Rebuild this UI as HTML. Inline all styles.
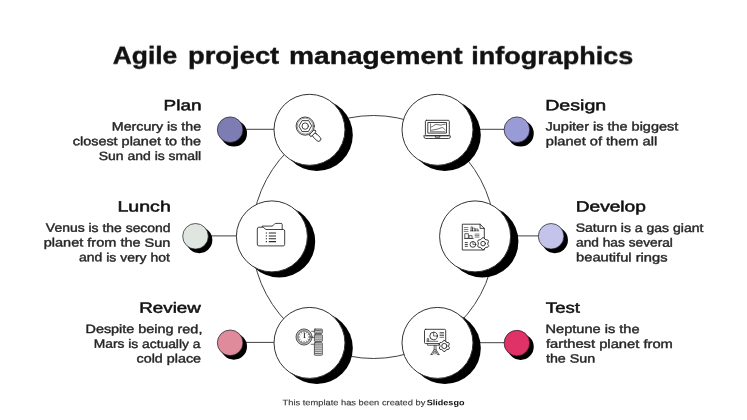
<!DOCTYPE html>
<html lang="en"><head><meta charset="utf-8"><title>Agile project management infographics</title>
<style>
html,body{margin:0;padding:0;background:#fff;}
body{width:747px;height:420px;overflow:hidden;position:relative;}
svg{position:absolute;left:0;top:0;display:block;}
text{font-family:"Liberation Sans", sans-serif;}
.txt{filter:grayscale(1);}
.title{font-size:24px;font-weight:bold;fill:#111;stroke:#111;stroke-width:.4px;}
.h{font-size:14.9px;fill:#111;stroke:#111;stroke-width:.5px;}
.b{font-size:12px;fill:#272727;stroke:#272727;stroke-width:.4px;}
.f{font-size:8px;fill:#3a3a3a;stroke:#3a3a3a;stroke-width:.15px;}
.fb{font-size:8px;font-weight:bold;fill:#111;}
.ic{fill:none;stroke:#2b2b2b;stroke-width:.9;stroke-linecap:round;stroke-linejoin:round;}
</style></head><body>
<svg width="747" height="420" viewBox="0 0 747 420">
<rect width="747" height="420" fill="#fff"/>
<circle cx="373.5" cy="237.0" r="121.5" fill="none" stroke="#404040" stroke-width="1"/>
<line x1="230.15" y1="129.30" x2="309.50" y2="129.30" stroke="#404040" stroke-width="1"/>
<line x1="516.90" y1="129.30" x2="437.50" y2="129.30" stroke="#404040" stroke-width="1"/>
<line x1="195.50" y1="235.90" x2="271.90" y2="235.90" stroke="#404040" stroke-width="1"/>
<line x1="551.10" y1="235.90" x2="475.10" y2="235.90" stroke="#404040" stroke-width="1"/>
<line x1="230.15" y1="342.40" x2="309.50" y2="342.40" stroke="#404040" stroke-width="1"/>
<line x1="516.90" y1="342.70" x2="437.50" y2="342.70" stroke="#404040" stroke-width="1"/>
<circle cx="233.85" cy="133.40" r="13.15" fill="#000"/>
<circle cx="230.15" cy="129.70" r="12.8" fill="#7d7db3" stroke="#1a1a22" stroke-width=".7"/>
<circle cx="520.60" cy="133.40" r="13.15" fill="#000"/>
<circle cx="516.90" cy="129.70" r="12.8" fill="#999bd6" stroke="#1a1a22" stroke-width=".7"/>
<circle cx="199.20" cy="240.00" r="13.15" fill="#000"/>
<circle cx="195.50" cy="236.30" r="12.8" fill="#dfe5df" stroke="#1a1a22" stroke-width=".7"/>
<circle cx="554.80" cy="240.00" r="13.15" fill="#000"/>
<circle cx="551.10" cy="236.30" r="12.8" fill="#c4c4ea" stroke="#1a1a22" stroke-width=".7"/>
<circle cx="233.85" cy="346.50" r="13.15" fill="#000"/>
<circle cx="230.15" cy="342.80" r="12.8" fill="#e08b9b" stroke="#1a1a22" stroke-width=".7"/>
<circle cx="520.60" cy="346.80" r="13.15" fill="#000"/>
<circle cx="516.90" cy="343.10" r="12.8" fill="#e03266" stroke="#1a1a22" stroke-width=".7"/>
<circle cx="316.80" cy="135.00" r="36.0" fill="#000"/>
<circle cx="309.50" cy="129.80" r="35.5" fill="#fff" stroke="#333" stroke-width="1"/>
<circle cx="444.80" cy="135.00" r="36.0" fill="#000"/>
<circle cx="437.50" cy="129.80" r="35.5" fill="#fff" stroke="#333" stroke-width="1"/>
<circle cx="279.20" cy="241.60" r="36.0" fill="#000"/>
<circle cx="271.90" cy="236.40" r="35.5" fill="#fff" stroke="#333" stroke-width="1"/>
<circle cx="482.40" cy="241.60" r="36.0" fill="#000"/>
<circle cx="475.10" cy="236.40" r="35.5" fill="#fff" stroke="#333" stroke-width="1"/>
<circle cx="316.80" cy="348.10" r="36.0" fill="#000"/>
<circle cx="309.50" cy="342.90" r="35.5" fill="#fff" stroke="#333" stroke-width="1"/>
<circle cx="444.80" cy="348.10" r="36.0" fill="#000"/>
<circle cx="437.50" cy="342.90" r="35.5" fill="#fff" stroke="#333" stroke-width="1"/>
<g class="ic">
<g transform="translate(305.2 126.1)">
<g transform="rotate(44)"><rect x="11" y="-2.3" width="9.9" height="4.6" rx="2.3" fill="#fff"/><rect x="8.9" y="-3.8" width="2.8" height="7.6" rx="1.4" fill="#fff"/></g>
<circle r="9.1" fill="#fff"/><circle r="8" stroke-width=".5"/>
<polygon points="6.30,0.00 3.15,5.46 -3.15,5.46 -6.30,0.00 -3.15,-5.46 3.15,-5.46"/>
<circle r="3.2"/></g>
<rect x="425.4" y="120.3" width="23.9" height="15.3" rx="1"/>
<rect x="428.2" y="122.5" width="18.3" height="10.6"/>
<path d="M424 135.8H450.3V136.9Q450.3 138.5 448.5 138.5H425.8Q424 138.5 424 136.9Z"/>
<path d="M435.4 135.8V137.2H439.8V135.8" stroke-width=".9"/>
<path d="M430.5 123.8V131.7H445" stroke-width=".6"/>
<path d="M431.5 127C433 126.6 434.4 124.4 436.4 124.4S439.5 125.3 441 125.1S442.8 124.2 445.2 124.2" stroke-width=".7"/>
<path d="M431.5 130.2C433 130 434.5 129.7 436 129.4S439.5 128.7 441.2 127.8S443.5 128.6 445.2 129.9" stroke-width=".7"/>
<path d="M262.2 227.2V226.1H272C273.6 226.1 274 223.4 275.8 223.4H281Q282.2 223.4 282.2 224.6V229.5"/>
<path d="M257.3 228.7Q257.3 227.2 258.8 227.2H263.2L265.9 229.5H283.2Q284.7 229.5 284.7 231V244.4Q284.7 245.9 283.2 245.9H258.8Q257.3 245.9 257.3 244.4Z" fill="#fff" stroke-width=".9"/>
<path d="M265.8 233.0H267M268.8 233.0H276" stroke-width="1.05" stroke-linecap="butt"/>
<path d="M265.8 235.9H267M268.8 235.9H276" stroke-width="1.05" stroke-linecap="butt"/>
<path d="M265.8 238.7H267M268.8 238.7H276" stroke-width="1.05" stroke-linecap="butt"/>
<path d="M265.8 241.6H267M268.8 241.6H276" stroke-width="1.05" stroke-linecap="butt"/>
<path d="M462.7 224.2H480.1L484.3 228.4V250H462.7Z"/>
<path d="M480.1 224.2V228.4H484.3"/>
<path d="M464.2 227.6H468M464.2 229.5H468M464.2 231.4H468M475.1 234.1H479M475.1 235.6H479M475.1 237.1H479" stroke-width=".6"/>
<path d="M471 230.8V226.9H472.4V230.8M472.4 230.8V228.2H475V230.8M475 230.8V229H478V230.8M470.4 230.8H478.8" stroke-width=".65"/>
<rect x="465.2" y="233.7" width="3.2" height="4.7" stroke-width=".75"/><rect x="469.4" y="235.7" width="2.7" height="2.7" stroke-width=".75"/>
<path d="M464.5 238.5H473.5" stroke-width=".65"/>
<path d="M465.2 242.6H467.4M465.2 244.5H467.4M465.2 246.3H467.4" stroke-width=".9"/>
<circle cx="472.9" cy="244.4" r="2.9" stroke-width=".9"/><path d="M472.9 241.8V244.4H475.3" stroke-width=".65"/>
<path d="M488.55 245.86 L487.78 247.19 L486.02 247.41 L484.94 248.03 L483.87 249.45 L482.33 249.45 L481.26 248.03 L480.18 247.41 L478.42 247.19 L477.65 245.86 L478.34 244.23 L478.34 242.97 L477.65 241.34 L478.42 240.01 L480.18 239.79 L481.26 239.17 L482.33 237.75 L483.87 237.75 L484.94 239.17 L486.02 239.79 L487.78 240.01 L488.55 241.34 L487.86 242.97 L487.86 244.23Z" fill="#fff" stroke-width=".95"/><circle cx="483.1" cy="243.6" r="2.3" stroke-width=".95"/>
<circle cx="304.05" cy="337" r="7.15" stroke="#c4c4c4" stroke-width="1.3"/>
<circle cx="304.05" cy="337" r="8.05" stroke-width=".8"/><circle cx="304.05" cy="337" r="6.2" stroke-width=".75"/>
<path d="M304.4 333.2V337.3" stroke-width="1"/><circle cx="304.4" cy="337.4" r=".5" fill="#333" stroke-width=".4"/>
<path d="M308.55 337.00L309.25 337.00M307.95 339.25L308.55 339.60M306.30 340.90L306.65 341.50M304.05 341.50L304.05 342.20M301.80 340.90L301.45 341.50M300.15 339.25L299.55 339.60M299.55 337.00L298.85 337.00M300.15 334.75L299.55 334.40M301.80 333.10L301.45 332.50M304.05 332.50L304.05 331.80M306.30 333.10L306.65 332.50M307.95 334.75L308.55 334.40" stroke-width=".7"/>
<path d="M311.6 331.3H314.3M312.2 337.4H314.3M311.2 344.3H314.3" stroke-width=".7"/>
<rect x="314.4" y="329.1" width="7.9" height="4.3" rx=".6" fill="#eee" stroke-width=".8"/>
<rect x="314.4" y="334.7" width="7.9" height="6.7" rx=".6" fill="#eee" stroke-width=".8"/>
<rect x="314.4" y="342.7" width="7.9" height="12.5" rx=".6" fill="#eee" stroke-width=".8"/>
<path d="M315.4 330.5H321.2M315.4 332.1H321.2M315.4 336H321.2M315.4 337.9H321.2M315.4 339.8H321.2M315.4 344.2H321.2M315.4 346H321.2M315.4 347.9H321.2M315.4 349.8H321.2M315.4 351.7H321.2M315.4 353.5H321.2" stroke-width=".65"/>
<rect x="424.5" y="329.3" width="21.2" height="14.3" rx="1.2"/>
<circle cx="433.6" cy="336" r="3.8" stroke-width=".9"/><path d="M433.6 332.2V336H437.4" stroke-width=".7"/>
<path d="M440 332.5H443.6M440 334H443.6M440 335.5H443.6M440 337.3H443.6" stroke-width=".7"/>
<path d="M427.2 341.2V338.6H428.6V341.2M427 341.3H437.8" stroke-width=".7"/>
<path d="M427.6 343.6V345.3H439V343.6" stroke-width=".7"/>
<path d="M434.2 345.3V349.4M436 345.3V349.4M434.2 349.4L431 354.6M436 349.4L439 354.6M435.1 349.8V354M431 354.6H432.6L434.2 351.4M439 354.6H437.4L436 351.4" stroke-width=".75"/>
<path d="M449.38 348.10 L448.66 349.35 L446.98 349.49 L445.98 350.07 L445.02 351.45 L443.58 351.45 L442.62 350.07 L441.62 349.49 L439.94 349.35 L439.22 348.10 L439.94 346.57 L439.94 345.43 L439.22 343.90 L439.94 342.65 L441.62 342.51 L442.62 341.93 L443.58 340.55 L445.02 340.55 L445.98 341.93 L446.98 342.51 L448.66 342.65 L449.38 343.90 L448.66 345.43 L448.66 346.57Z" fill="#fff" stroke-width=".95"/><circle cx="444.3" cy="346" r="2.6" stroke-width=".95"/>
</g>
<g class="txt">
<text class="title" transform="rotate(.05 373 64)" y="64.3"><tspan x="112.65" textLength="64.65" lengthAdjust="spacingAndGlyphs">Agile</tspan> <tspan x="187.90" textLength="91.35" lengthAdjust="spacingAndGlyphs">project</tspan> <tspan x="289.14" textLength="173.44" lengthAdjust="spacingAndGlyphs">management</tspan> <tspan x="471.27" textLength="162.01" lengthAdjust="spacingAndGlyphs">infographics</tspan></text>
<text class="h" transform="rotate(.05 183 110)" x="163.59" y="110.3" textLength="37.93" lengthAdjust="spacingAndGlyphs">Plan</text>
<text class="b" transform="rotate(.05 156 130)" x="111.82" y="130.5" textLength="89.23" lengthAdjust="spacingAndGlyphs">Mercury is the</text>
<text class="b" transform="rotate(.05 137 145)" x="72.74" y="145.2" textLength="128.26" lengthAdjust="spacingAndGlyphs">closest planet to the</text>
<text class="b" transform="rotate(.05 150 160)" x="98.69" y="160.0" textLength="102.53" lengthAdjust="spacingAndGlyphs">Sun and is small</text>
<text class="h" transform="rotate(.05 144 212)" x="117.49" y="211.5" textLength="53.30" lengthAdjust="spacingAndGlyphs">Lunch</text>
<text class="b" transform="rotate(.05 108 232)" x="45.88" y="231.9" textLength="124.73" lengthAdjust="spacingAndGlyphs">Venus is the second</text>
<text class="b" transform="rotate(.05 107 247)" x="43.73" y="246.6" textLength="126.72" lengthAdjust="spacingAndGlyphs">planet from the Sun</text>
<text class="b" transform="rotate(.05 124 261)" x="79.13" y="261.4" textLength="90.63" lengthAdjust="spacingAndGlyphs">and is very hot</text>
<text class="h" transform="rotate(.05 170 313)" x="139.35" y="312.8" textLength="61.39" lengthAdjust="spacingAndGlyphs">Review</text>
<text class="b" transform="rotate(.05 144 333)" x="85.49" y="333.1" textLength="116.91" lengthAdjust="spacingAndGlyphs">Despite being red,</text>
<text class="b" transform="rotate(.05 147 348)" x="93.71" y="347.9" textLength="106.71" lengthAdjust="spacingAndGlyphs">Mars is actually a</text>
<text class="b" transform="rotate(.05 169 362)" x="136.57" y="362.5" textLength="64.48" lengthAdjust="spacingAndGlyphs">cold place</text>
<text class="h" transform="rotate(.05 576 110)" x="545.20" y="110.3" textLength="61.01" lengthAdjust="spacingAndGlyphs">Design</text>
<text class="b" transform="rotate(.05 612 130)" x="545.57" y="130.5" textLength="132.67" lengthAdjust="spacingAndGlyphs">Jupiter is the biggest</text>
<text class="b" transform="rotate(.05 602 145)" x="545.89" y="145.2" textLength="111.36" lengthAdjust="spacingAndGlyphs">planet of them all</text>
<text class="h" transform="rotate(.05 611 212)" x="575.66" y="211.5" textLength="70.26" lengthAdjust="spacingAndGlyphs">Develop</text>
<text class="b" transform="rotate(.05 640 232)" x="575.74" y="231.9" textLength="127.64" lengthAdjust="spacingAndGlyphs">Saturn is a gas giant</text>
<text class="b" transform="rotate(.05 624 247)" x="576.05" y="246.6" textLength="96.85" lengthAdjust="spacingAndGlyphs">and has several</text>
<text class="b" transform="rotate(.05 622 261)" x="576.09" y="261.4" textLength="91.43" lengthAdjust="spacingAndGlyphs">beautiful rings</text>
<text class="h" transform="rotate(.05 563 313)" x="545.89" y="312.8" textLength="34.00" lengthAdjust="spacingAndGlyphs">Test</text>
<text class="b" transform="rotate(.05 593 333)" x="545.57" y="333.1" textLength="93.98" lengthAdjust="spacingAndGlyphs">Neptune is the</text>
<text class="b" transform="rotate(.05 609 348)" x="545.96" y="347.9" textLength="126.90" lengthAdjust="spacingAndGlyphs">farthest planet from</text>
<text class="b" transform="rotate(.05 571 362)" x="545.93" y="362.5" textLength="49.28" lengthAdjust="spacingAndGlyphs">the Sun</text>
<text class="f" transform="rotate(.05 354 405)" x="282.54" y="405.2" textLength="142.84" lengthAdjust="spacingAndGlyphs">This template has been created by</text>
<text class="fb" transform="rotate(.05 446 405)" x="426.80" y="405.2" textLength="37.63" lengthAdjust="spacingAndGlyphs">Slidesgo</text>
</g>
</svg>
</body></html>
